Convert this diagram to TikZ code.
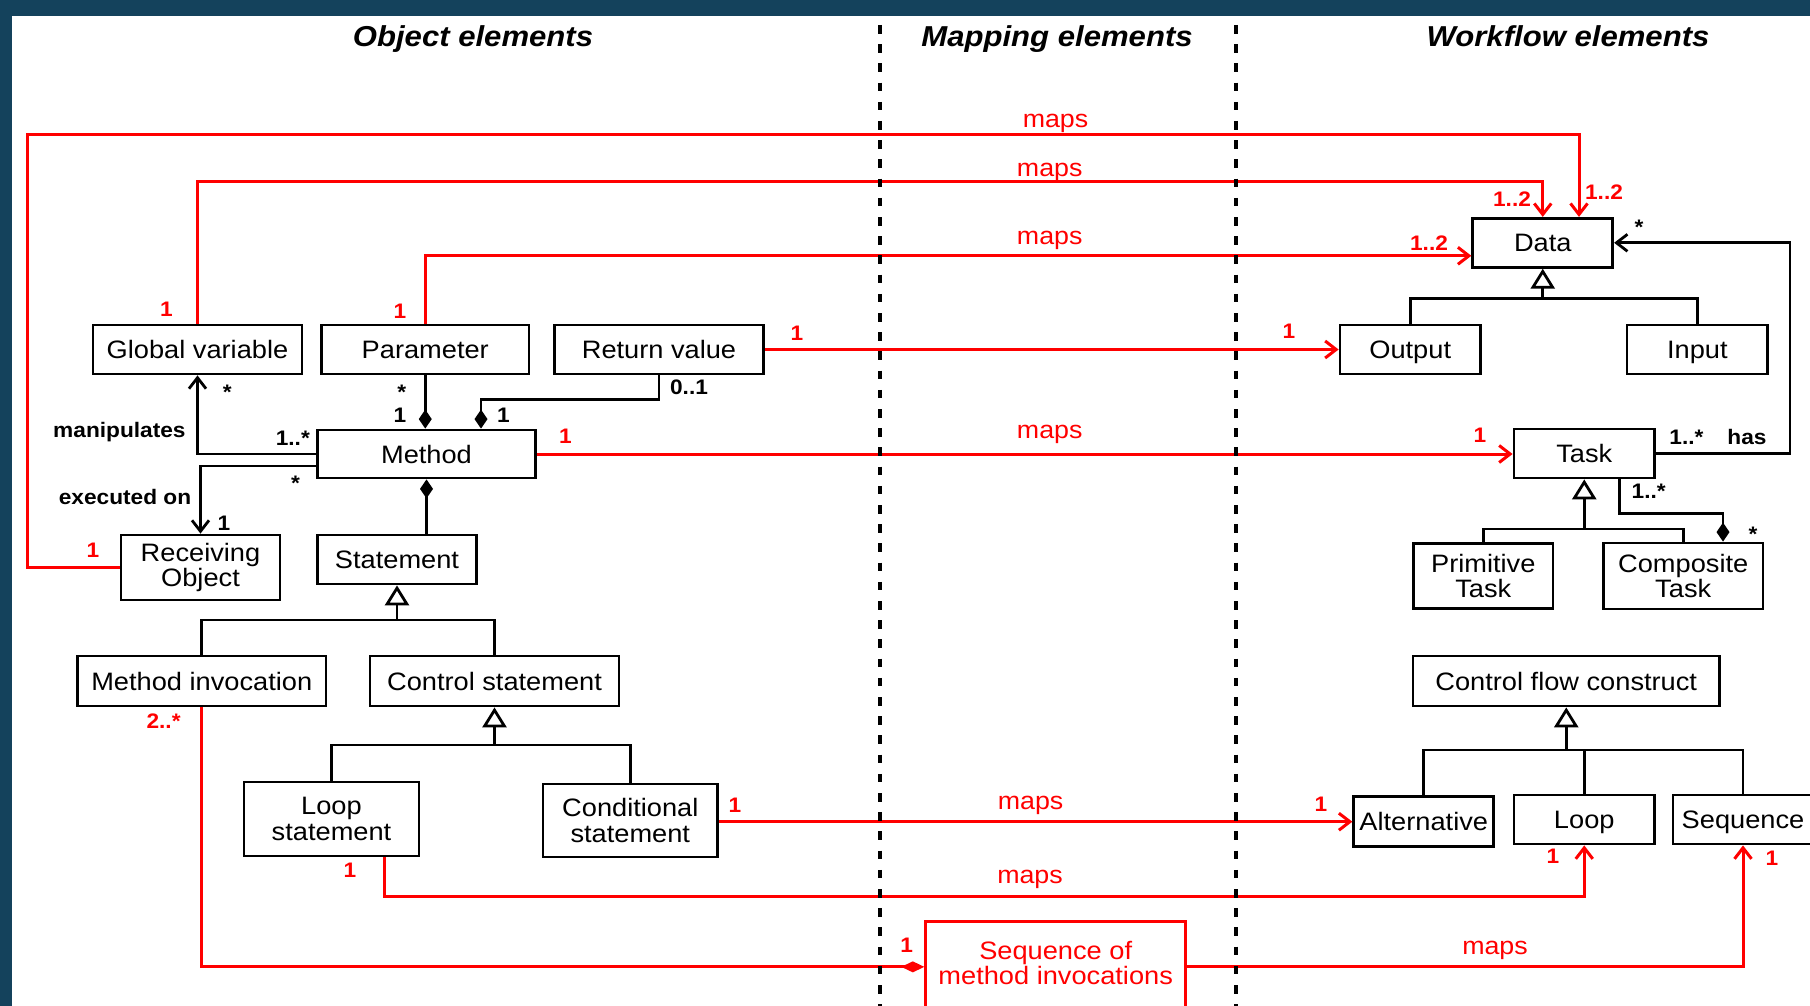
\documentclass[tikz,border=0pt]{standalone}
\usepackage{fontspec}
\setmainfont{Liberation Sans}[FakeStretch=1.08]
\usetikzlibrary{arrows.meta,calc}
\definecolor{frameblue}{RGB}{20,66,92}
\definecolor{mapred}{RGB}{255,0,0}
\newcommand\bxfont{\fontsize{12.6}{12.6}\selectfont}
\newcommand\mlfont{\fontsize{10.5}{10.5}\selectfont\bfseries}
\newcommand\mpfont{\fontsize{12.4}{12.4}\selectfont}
\newcommand\ttlfont{\fontsize{14.4}{14.4}\selectfont\bfseries\itshape}
\begin{document}
\begin{tikzpicture}[x=0.5pt,y=-0.5pt,
  box/.style={draw, line width=1.4pt, inner sep=0pt, align=center, font=\bxfont},
  sbox/.style={box, text height=9pt, text depth=0pt},
  redbox/.style={box, draw=mapred, text=mapred},
  assoc/.style={line width=1.4pt, -{Straight Barb[length=5.5pt,width=8.5pt]}},
  comp/.style={line width=1.4pt, -{Diamond[length=9.5pt,width=6.5pt]}},
  gen/.style={line width=1.4pt, -{Triangle[length=10pt,width=12pt,fill=white]}},
  link/.style={line width=1.4pt},
  maparrow/.style={line width=1.5pt, draw=mapred, -{Straight Barb[length=5.5pt,width=8.5pt]}},
  mapline/.style={line width=1.5pt, draw=mapred},
  mult/.style={inner sep=0pt, font=\mlfont},
  rmult/.style={mult, text=mapred},
  maplabel/.style={inner sep=0pt, font=\mpfont, text=mapred},
  role/.style={inner sep=0pt, font=\mlfont},
  headline/.style={inner sep=0pt, font=\ttlfont, text height=10.4pt, text depth=0pt},
  lane/.style={line width=1.7pt, dash pattern=on 4.3pt off 5.3pt}
]
\useasboundingbox (0,0) rectangle (1810,1006);
\fill[white] (0,0) rectangle (1810,1006);
\fill[frameblue] (0,0) rectangle (1810,16);
\fill[frameblue] (0,0) rectangle (12,1006);

\begin{scope}
\clip (12,16) rectangle (1810,1006);

% column headings
\node[headline] (hobj) at (473,36) {Object elements};
\node[headline] (hmap) at (1057,36) {Mapping elements};
\node[headline] (hwf)  at (1568,36) {Workflow elements};

% object elements
\node[sbox, minimum width=104.5pt, minimum height=24.5pt] (GV) at (197.5,349.5) {Global variable};
\node[sbox, minimum width=103.75pt, minimum height=24.5pt] (Param) at (425.25,349.5) {Parameter};
\node[sbox, minimum width=104.5pt, minimum height=24.5pt] (RetVal) at (659,349.5) {Return value};
\node[sbox, minimum width=109pt, minimum height=24pt] (Method) at (426.5,454) {Method};
\node[box, minimum width=79.5pt, minimum height=32.5pt] (RecObj) at (200.5,567.5) {Receiving\\Object};
\node[sbox, minimum width=79.5pt, minimum height=24.5pt] (Statement) at (397,559.5) {Statement};
\node[sbox, minimum width=124.25pt, minimum height=25pt] (MethInv) at (201.75,681) {Method invocation};
\node[sbox, minimum width=124.5pt, minimum height=25pt] (CtrlStmt) at (494.5,681) {Control statement};
\node[box, minimum width=87.5pt, minimum height=37pt] (LoopStmt) at (331.5,819) {Loop\\statement};
\node[box, minimum width=87.3pt, minimum height=36.5pt] (CondStmt) at (630.3,820.5) {Conditional\\statement};

% mapping element: its frame runs on below the lower edge
\node[redbox, minimum width=130pt, minimum height=45pt] (SoMI) at (1055.7,966.85) {};
\node[box, draw=none, text=mapred] (SoMItext) at (1055.7,963.3) {Sequence of\\method invocations};

% workflow elements
\node[sbox, minimum width=70pt, minimum height=24.5pt] (Data) at (1542.75,242.8) {Data};
\node[sbox, minimum width=70.2pt, minimum height=24.5pt] (Output) at (1410.2,349.5) {Output};
\node[sbox, minimum width=70.35pt, minimum height=24.5pt] (Input) at (1697.4,349.5) {Input};
\node[sbox, minimum width=70.25pt, minimum height=24.5pt] (Task) at (1584.25,453.5) {Task};
\node[box, minimum width=69.7pt, minimum height=32.5pt] (PrimTask) at (1483.3,575.8) {Primitive\\Task};
\node[box, minimum width=79.8pt, minimum height=33pt] (CompTask) at (1683.2,576) {Composite\\Task};
\node[sbox, minimum width=153.25pt, minimum height=25pt] (CFC) at (1566.25,681) {Control flow construct};
\node[sbox, minimum width=70pt, minimum height=25pt] (Alt) at (1423.75,821.7) {Alternative};
\node[sbox, minimum width=70.25pt, minimum height=24.5pt] (Loop) at (1584.25,819.5) {Loop};
\node[sbox, minimum width=70pt, minimum height=24.5pt] (Seq) at (1743,819.5) {Sequence};

% generalisations
\coordinate (sbar) at (Statement.south |- 0,620);
\draw[link] (MethInv.north) |- (sbar) -| (CtrlStmt.north);
\draw[gen] (sbar) -- (Statement.south);
\coordinate (cbar) at (CtrlStmt.south |- 0,745);
\draw[link] (LoopStmt.north) |- (cbar) -| (CondStmt.north);
\draw[gen] (cbar) -- (CtrlStmt.south);
\coordinate (dbar) at (Data.south |- 0,298.3);
\draw[link] (Output.north) |- (dbar) -| (Input.north);
\draw[gen] (dbar) -- (Data.south);
\coordinate (tbar) at (Task.south |- 0,529);
\draw[link] (PrimTask.north) |- (tbar) -| (CompTask.north);
\draw[gen] (tbar) -- (Task.south);
\coordinate (fbar) at (CFC.south |- 0,750);
\draw[link] (Alt.north) |- (fbar) -| (Seq.north);
\draw[link] (Loop.north) -- (Loop.north |- fbar);
\draw[gen] (fbar) -- (CFC.south);

% associations
\draw[assoc] (Method.west) -| (GV.south);
\draw[assoc] ($(Method.west)+(0,12)$) -| (RecObj.north);
\draw[assoc] (Task.east) -- (Task.east -| 1790,0) |- (Data.east);

% compositions
\draw[comp] (Param.south) -- (Param.south |- Method.north);
\draw[comp] (RetVal.south) -- ++(0,23.7) -| ($(Method.north)+(54.5,0)$);
\draw[comp] (Statement.north -| Method.south) -- (Method.south);
\draw[comp] ($(Task.south)+(35.5,0)$) -- ++(0,34.3) -| ($(CompTask.north)+(39.8,0)$);

% mappings
\draw[maparrow] (RecObj.west) -| (27.6,134.3) -| ($(Data.north)+(36.25,0)$);
\draw[maparrow] (GV.north) -- (GV.north |- 0,181.7) -| (Data.north);
\draw[maparrow] (Param.north) |- ($(Data.west)+(0,13)$);
\draw[maparrow] (RetVal.east) -- (Output.west);
\draw[maparrow] (Method.east) -- (Method.east -| Task.west);
\draw[maparrow] (CondStmt.east |- Alt.west) -- (Alt.west);
\draw[maparrow] ($(LoopStmt.south)+(53,0)$) -- ++(0,39) -| (Loop.south);
\draw[mapline, -{Diamond[length=11.5pt,width=5.5pt]}] (MethInv.south) |- (SoMI.west);
\draw[maparrow] (SoMI.east) -| (Seq.south);

% mapping labels
\node[maplabel] (m1) at (1055.5,123) {maps};
\node[maplabel] (m2) at (1049.7,172) {maps};
\node[maplabel] (m3) at (1049.7,240) {maps};
\node[maplabel] (m4) at (1049.7,434.7) {maps};
\node[maplabel] (m5) at (1030.6,805.7) {maps};
\node[maplabel] (m6) at (1030,879) {maps};
\node[maplabel] (m7) at (1495,950.7) {maps};

% mapping multiplicities
\node[rmult] (r1) at (166.5,309.3) {1};
\node[rmult] (r2) at (400,311) {1};
\node[rmult] (r3) at (796.8,333.3) {1};
\node[rmult] (r4) at (1289,331.7) {1};
\node[rmult] (r5) at (565.5,436.7) {1};
\node[rmult] (r6) at (1480,435) {1};
\node[rmult] (r7) at (1604,191.7) {1..2};
\node[rmult] (r8) at (1512,199) {1..2};
\node[rmult] (r9) at (1429,242.7) {1..2};
\node[rmult] (r10) at (93,550.7) {1};
\node[rmult] (r11) at (163.6,720.7) {2..*};
\node[rmult] (r12) at (350,870.7) {1};
\node[rmult] (r13) at (735,805) {1};
\node[rmult] (r14) at (1320.8,804) {1};
\node[rmult] (r15) at (1553,856.7) {1};
\node[rmult] (r16) at (1772,858) {1};
\node[rmult] (r17) at (906.7,945) {1};

% roles and multiplicities
\node[role] (lmanip) at (119.4,431.7) {manipulates};
\node[role] (lexec) at (125,496.7) {executed on};
\node[role] (lhas) at (1747,437.3) {has};
\node[mult] (b1) at (227.3,391.9) {*};
\node[mult] (b2) at (292.8,438.3) {1..*};
\node[mult] (b3) at (295.6,483.6) {*};
\node[mult] (b4) at (224,523.3) {1};
\node[mult] (b5) at (401.8,391.9) {*};
\node[mult] (b6) at (400,415) {1};
\node[mult] (b7) at (689,387.3) {0..1};
\node[mult] (b8) at (503.4,415) {1};
\node[mult] (b9) at (1639,227.6) {*};
\node[mult] (b10) at (1686.4,437.3) {1..*};
\node[mult] (b11) at (1648.7,491) {1..*};
\node[mult] (b12) at (1753,534.6) {*};

% lane dividers
\draw[lane] (880,25) -- (880,1006);
\draw[lane] (1236,25) -- (1236,1006);
\end{scope}
\end{tikzpicture}
\end{document}
